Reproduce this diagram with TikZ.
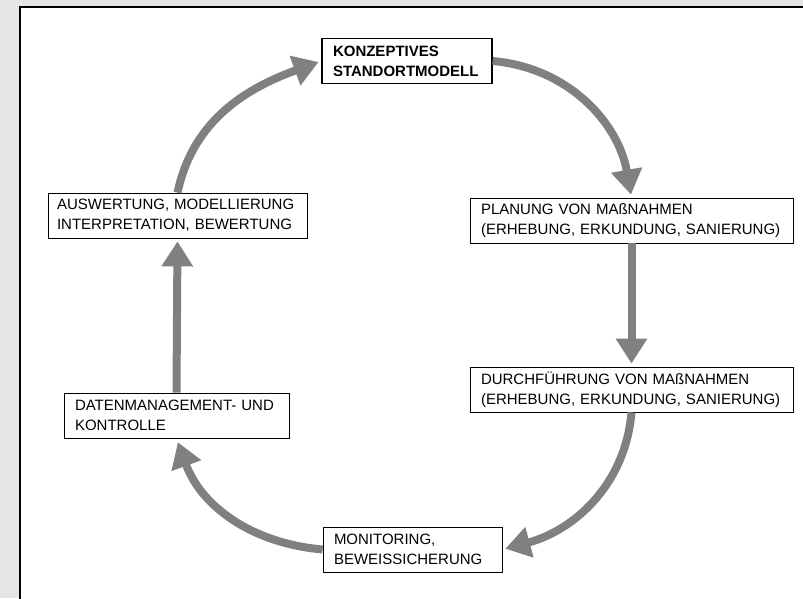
\documentclass[tikz,border=0pt]{standalone}
\usepackage{fontspec}
\setmainfont{Liberation Sans}
\usepackage{tikz}
\usetikzlibrary{arrows.meta}
\tikzset{>={Triangle[width=30pt,length=25pt]},font=\fontsize{15}{20}\selectfont}
\tikzset{stepbox/.style={draw,fill=white,line width=0.8pt,align=left,inner xsep=11pt,minimum height=45pt},
  flow/.style={->,draw=gray,line width=8pt,shorten >=3pt}}

\begin{document}
\begin{tikzpicture}[x=1pt,y=-1pt]
\useasboundingbox (0,0) rectangle (803,598);
\fill[gray!20] (0,0) rectangle (803,598);
\draw[fill=white,line width=1.5pt] (20,7) rectangle (820,620);
\node[stepbox,line width=1.3pt,text width=148pt,font=\fontsize{15}{20}\selectfont\bfseries] (K) at (407,61) {KONZEPTIVES\\STANDORTMODELL};
\node[stepbox,text width=301pt] (P) at (631.5,220.5) {PLANUNG VON MAßNAHMEN\\(ERHEBUNG, ERKUNDUNG, SANIERUNG)};
\node[stepbox,text width=301pt] (D) at (631.5,389.5) {DURCHFÜHRUNG VON MAßNAHMEN\\(ERHEBUNG, ERKUNDUNG, SANIERUNG)};
\node[stepbox,text width=157pt] (M) at (412.5,549.5) {MONITORING,\\BEWEISSICHERUNG};
\node[stepbox,text width=203pt] (Da) at (176.5,415.5) {DATENMANAGEMENT- UND\\KONTROLLE};
\node[stepbox,inner xsep=9pt,text width=241pt] (A) at (177.5,215.5) {AUSWERTUNG, MODELLIERUNG\\INTERPRETATION, BEWERTUNG};
\path
(A.north) edge [flow,out=78,in=200] (K.west)
(K.east) edge [flow,out=-5,in=100] (P.north)
(P.south) edge [flow] (D.north)
;
\path
(D.south) edge [flow,out=-95,in=15] (M.east)
(M.west) edge [flow,out=175,in=-70,shorten >=4pt] (Da.south)
(Da.north) edge [flow] (A.south)
;
\end{tikzpicture}
\end{document}
